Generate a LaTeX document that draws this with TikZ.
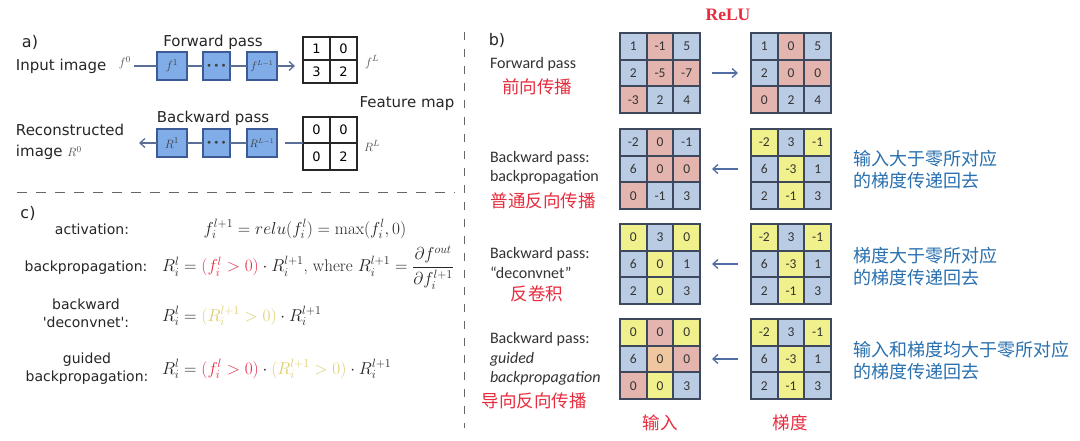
\documentclass[tikz,border=0pt]{standalone}
\usepackage{amsmath}
\usepackage{fontspec}
\newfontfamily\dejavu{DejaVu Sans}
\newfontfamily\carl{Carlito}
\newfontfamily\cjk{Noto Sans CJK SC}
\newfontfamily\serifb{Liberation Serif}
\usetikzlibrary{arrows.meta}
\definecolor{cb}{RGB}{186,204,228}
\definecolor{cr}{RGB}{228,180,174}
\definecolor{cy}{RGB}{240,240,140}
\definecolor{co}{RGB}{238,198,160}
\definecolor{gridc}{RGB}{62,72,92}
\definecolor{zred}{RGB}{232,44,62}
\definecolor{zblue}{RGB}{40,112,175}
\definecolor{fred}{RGB}{232,40,70}
\definecolor{fyel}{RGB}{222,205,110}
\definecolor{aboxf}{RGB}{128,172,232}
\definecolor{aboxd}{RGB}{60,90,150}
\definecolor{alinec}{RGB}{90,110,150}
\definecolor{barc}{RGB}{80,110,165}
\newcommand{\mkgrid}[4]{%
  \foreach [count=\k from 0] \c/\v in {#4} {%
    \pgfmathtruncatemacro{\rr}{div(\k,3)}%
    \pgfmathtruncatemacro{\cc}{mod(\k,3)}%
    \node[cell, fill=\c] (#1-\rr-\cc) at ({#2+(\cc+0.5)*26.67},{#3+(\rr+0.5)*26.67}) {\v};
  }%
  \draw[gridframe] (#1-0-0.north west) rectangle (#1-2-2.south east);
}
\newcommand{\tdots}{{\fontsize{7}{8}\selectfont$\bullet\,\bullet\,\bullet$}}
\begin{document}
\begin{tikzpicture}[x=1pt,y=-1pt,
  every node/.style={inner sep=0pt,outer sep=0pt},
  lblA/.style={font=\dejavu\fontsize{15}{21}\selectfont,text=black!85},
  lblB/.style={font=\carl\fontsize{16}{19.5}\selectfont,text=black!80},
  zhred/.style={font=\cjk\fontsize{17.5}{21}\selectfont,text=zred},
  zhblue/.style={font=\cjk\fontsize{18}{22}\selectfont,text=zblue,align=left},
  cell/.style={draw=gridc,line width=1.7pt,minimum size=26.67pt,font=\carl\fontsize{13.5}{15}\selectfont,text=black!80},
  gridframe/.style={draw=gridc,line width=2.4pt},
  abox/.style={draw=aboxd,fill=aboxf,line width=1.1pt,minimum height=28pt,font=\fontsize{12.5}{14}\selectfont,text=black!75},
  aboxs/.style={abox,font=\fontsize{10.5}{12}\selectfont},
  acell/.style={draw=black!85,line width=1.6pt,minimum width=27pt,font=\dejavu\fontsize{13}{15}\selectfont},
  aline/.style={draw=alinec,line width=1.1pt},
  atip/.style={-{Straight Barb[length=5pt,width=9pt,line width=1.3pt]}},
  barrow/.style={draw=barc,line width=1.3pt,-{Straight Barb[length=5pt,width=9pt]}},
  small/.style={font=\fontsize{12.5}{14}\selectfont,text=black!70},
  fml/.style={font=\fontsize{17}{20}\selectfont,text=black!85},
  clbl/.style={font=\dejavu\fontsize{14}{18}\selectfont,text=black!85,align=center},
  sep/.style={draw=black!60,line width=1pt,dash pattern=on 10pt off 9pt}]
\useasboundingbox[fill=white] (0,0) rectangle (1080,441);
% ---------------- a)
\node[lblA,font=\dejavu\fontsize{16}{19}\selectfont] (la) at (30,42) {a)};
\node[lblA] (fwd) at (213,42) {Forward pass};
\node[lblA,anchor=west] (inimg) at (16,66) {Input image};
\node[small] (f0) at (125,63) {$f^0$};
\node[abox,minimum width=30pt] (b1) at (172,66) {$f^{1}$};
\node[abox,minimum width=27pt] (b2) at (216.5,66) {\tdots};
\node[aboxs,minimum width=30pt] (b3) at (262,66) {$f^{L-1}$};
\foreach \r/\y in {0/48.5,1/71.5}{
  \foreach \c/\x in {0/316.5,1/343.5}{
    \node[acell,minimum height=23pt] (m1-\r-\c) at (\x,\y) {};
  }
}
\node at (m1-0-0) {\dejavu\fontsize{13}{15}\selectfont 1};
\node at (m1-0-1) {\dejavu\fontsize{13}{15}\selectfont 0};
\node at (m1-1-0) {\dejavu\fontsize{13}{15}\selectfont 3};
\node at (m1-1-1) {\dejavu\fontsize{13}{15}\selectfont 2};
\node[small] (fL) at (372,62) {$f^L$};
\draw[aline,shorten <=3pt] (f0.east |- b1.west) -- (b1.west);
\draw[aline] (b1.east) -- (b2.west);
\draw[aline] (b2.east) -- (b3.west);
\draw[aline,atip,shorten >=8pt] (b3.east) -- (m1-0-0.west |- b3.east);
\node[lblA] (fmap) at (407,104) {Feature map};
\node[lblA] (bwd) at (213,118) {Backward pass};
\node[abox,minimum width=30pt] (r1) at (172,143) {$R^{1}$};
\node[abox,minimum width=27pt] (r2) at (216.5,143) {\tdots};
\node[aboxs,minimum width=30pt] (r3) at (262,143) {$R^{L-1}$};
\foreach \r/\y in {0/130,1/156.5}{
  \foreach \c/\x in {0/316.5,1/343.5}{
    \node[acell,minimum height=26.5pt] (m2-\r-\c) at (\x,\y) {};
  }
}
\node at (m2-0-0) {\dejavu\fontsize{13}{15}\selectfont 0};
\node at (m2-0-1) {\dejavu\fontsize{13}{15}\selectfont 0};
\node at (m2-1-0) {\dejavu\fontsize{13}{15}\selectfont 0};
\node at (m2-1-1) {\dejavu\fontsize{13}{15}\selectfont 2};
\node[small] (RL) at (372,146) {$R^L$};
\node[lblA,anchor=west,align=left] (recon) at (16,142) {Reconstructed\\image {\fontsize{12.5}{14}\selectfont\color{black!70}$R^0$}};
\coordinate (rtip) at (139,143);
\draw[aline,shorten >=8pt] (m2-0-0.west |- r3.east) -- (r3.east);
\draw[aline] (r3.west) -- (r2.east);
\draw[aline] (r2.west) -- (r1.east);
\draw[aline,atip] (r1.west) -- (rtip);
% separators
\draw[sep] (17,193) -- (455,193);
\draw[sep,dash pattern=on 8pt off 9pt] (464,32) -- (464,428);
% ---------------- c)
\node[lblA,font=\dejavu\fontsize{16}{19}\selectfont] (lc) at (28,213) {c)};
\node[clbl] (cact) at (92,229) {activation:};
\node[fml] (e1) at (305,229) {$f_i^{l+1} = relu(f_i^l) = \max(f_i^l,0)$};
\node[clbl] (cbp) at (86,268) {backpropagation:};
\node[fml,anchor=west] (e2) at (162,268) {$R_i^l = \textcolor{fred}{(f_i^l>0)}\cdot R_i^{l+1}\mbox{, where }R_i^{l+1}=\dfrac{\partial f^{out}}{\partial f_i^{l+1}}$};
\node[clbl] (cdc) at (86,313) {backward\\\symbol{39}deconvnet\symbol{39}:};
\node[fml,anchor=west] (e3) at (162,316) {$R_i^l = \textcolor{fyel}{(R_i^{l+1}>0)}\cdot R_i^{l+1}$};
\node[clbl] (cgb) at (87,369) {guided\\backpropagation:};
\node[fml,anchor=west] (e4) at (162,369) {$R_i^l = \textcolor{fred}{(f_i^l>0)}\cdot \textcolor{fyel}{(R_i^{l+1}>0)}\cdot R_i^{l+1}$};
% ---------------- b)
\node[font=\serifb\bfseries\fontsize{17.5}{20}\selectfont,text=zred] (relu) at (728,15) {ReLU};
\node[lblA,font=\dejavu\fontsize{16}{19}\selectfont] (lb) at (497,40) {b)};
\node[lblB,anchor=west] (fp) at (490,64) {Forward pass};
\node[zhred] (fpz) at (537,87) {前向传播};
\node[lblB,anchor=west,align=left] (bp) at (490,168) {Backward pass:\\backpropagation};
\node[zhred] (bpz) at (543,201) {普通反向传播};
\node[lblB,anchor=west,align=left] (dc) at (490,263) {Backward pass:\\“deconvnet”};
\node[zhred] (dcz) at (537,294) {反卷积};
\node[lblB,anchor=west,align=left] (gb) at (490,359) {Backward pass:\\\textit{guided}\\\textit{backpropagation}};
\node[zhred] (gbz) at (534,401) {导向反向传播};
\node[zhred] (inz) at (660,423) {输入};
\node[zhred] (tdz) at (790,423) {梯度};
\mkgrid{gA}{620}{33}{cb/1,cr/-1,cb/5,cb/2,cr/-5,cr/-7,cr/-3,cb/2,cb/4}
\mkgrid{gB}{751}{33}{cb/1,cr/0,cb/5,cb/2,cr/0,cr/0,cr/0,cb/2,cb/4}
\mkgrid{gC}{620}{129}{cb/-2,cr/0,cb/-1,cb/6,cr/0,cr/0,cr/0,cb/-1,cb/3}
\mkgrid{gD}{751}{129}{cy/-2,cb/3,cy/-1,cb/6,cy/-3,cb/1,cb/2,cy/-1,cb/3}
\mkgrid{gE}{620}{224}{cy/0,cb/3,cy/0,cb/6,cy/0,cb/1,cb/2,cy/0,cb/3}
\mkgrid{gF}{751}{224}{cy/-2,cb/3,cy/-1,cb/6,cy/-3,cb/1,cb/2,cy/-1,cb/3}
\mkgrid{gG}{620}{319}{cy/0,cr/0,cy/0,cb/6,co/0,cr/0,cr/0,cy/0,cb/3}
\mkgrid{gH}{751}{319}{cy/-2,cb/3,cy/-1,cb/6,cy/-3,cb/1,cb/2,cy/-1,cb/3}
\draw[barrow,shorten <=12pt,shorten >=13pt] (gA-1-2.east) -- (gB-1-0.west);
\draw[barrow,shorten <=13pt,shorten >=12pt] (gD-1-0.west) -- (gC-1-2.east);
\draw[barrow,shorten <=13pt,shorten >=12pt] (gF-1-0.west) -- (gE-1-2.east);
\draw[barrow,shorten <=13pt,shorten >=12pt] (gH-1-0.west) -- (gG-1-2.east);
\node[zhblue,anchor=west] (t1) at (853,170) {输入大于零所对应\\的梯度传递回去};
\node[zhblue,anchor=west] (t2) at (853,267) {梯度大于零所对应\\的梯度传递回去};
\node[zhblue,anchor=west] (t3) at (853,361) {输入和梯度均大于零所对应\\的梯度传递回去};
\end{tikzpicture}
\end{document}
